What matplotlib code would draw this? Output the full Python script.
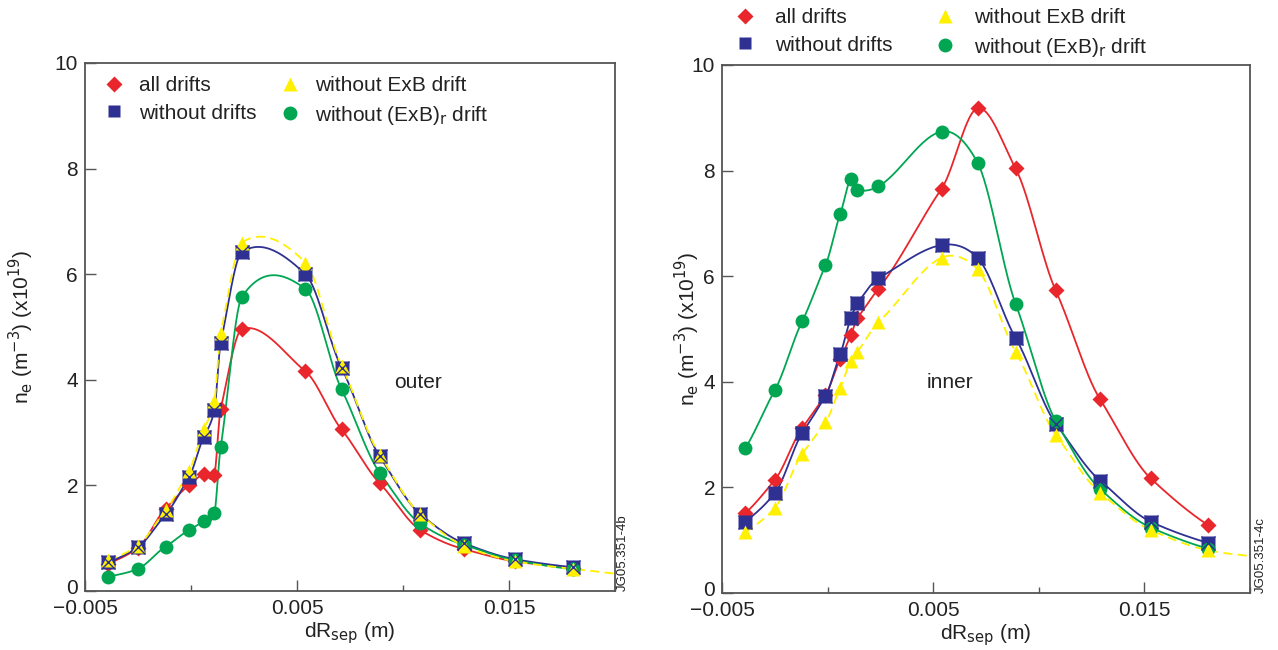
import numpy as np
import matplotlib
matplotlib.use('Agg')
import matplotlib.pyplot as plt
import matplotlib.transforms as mtransforms
from matplotlib.lines import Line2D

plt.rcParams['font.family'] = ['Liberation Sans', 'DejaVu Sans']

# radial positions (m) shared by both profiles
dr_sep = [-0.0039, -0.0025, -0.0012, -0.0001, 0.0006, 0.0011, 0.0014, 0.0024,
          0.0054, 0.0071, 0.0089, 0.0108, 0.0129, 0.0153, 0.0180]

# outer target, n_e in 1e19 m^-3
outer_all = [0.52, 0.82, 1.56, 2.00, 2.22, 2.20, 3.45, 4.96, 4.16, 3.06, 2.04, 1.16, 0.79, 0.56, 0.43]
outer_none = [0.54, 0.83, 1.45, 2.15, 2.92, 3.42, 4.70, 6.42, 6.00, 4.23, 2.55, 1.46, 0.90, 0.60, 0.45]
outer_no_exb = [0.58, 0.86, 1.53, 2.27, 3.06, 3.60, 4.88, 6.60, 6.22, 4.27, 2.58, 1.46, 0.85, 0.56, 0.42]
outer_no_exb_r = [0.27, 0.42, 0.84, 1.15, 1.32, 1.47, 2.73, 5.57, 5.72, 3.82, 2.24, 1.28, 0.87, 0.58, 0.41]

# inner target
inner_all = [1.51, 2.14, 3.13, 3.75, 4.43, 4.88, 5.20, 5.76, 7.66, 9.18, 8.04, 5.73, 3.67, 2.17, 1.29]
inner_none = [1.35, 1.89, 3.03, 3.73, 4.53, 5.20, 5.49, 5.96, 6.59, 6.35, 4.83, 3.21, 2.13, 1.35, 0.95]
inner_no_exb = [1.15, 1.61, 2.64, 3.23, 3.89, 4.40, 4.57, 5.13, 6.35, 6.13, 4.57, 3.00, 1.90, 1.19, 0.81]
inner_no_exb_r = [2.74, 3.84, 5.15, 6.21, 7.18, 7.84, 7.63, 7.70, 8.74, 8.15, 5.48, 3.26, 1.97, 1.24, 0.84]

# the ExB-off fit runs on to the edge of the window
tail_x = 0.0200
outer_no_exb_tail = 0.33
inner_no_exb_tail = 0.70

RED = '#E8262B'
BLUE = '#2E3192'
YELLOW = '#FFF000'
GREEN = '#00A651'
AXCOL = '#555555'
TXT = '#222222'


def smooth(x, y, n=30, tension=0.8):
    # cubic Hermite through the points, damped Catmull-Rom slopes
    x = np.asarray(x, float)
    y = np.asarray(y, float)
    m = np.empty_like(y)
    m[1:-1] = (y[2:] - y[:-2]) / (x[2:] - x[:-2])
    m[0] = (y[1] - y[0]) / (x[1] - x[0])
    m[-1] = (y[-1] - y[-2]) / (x[-1] - x[-2])
    m *= tension
    xs, ys = [], []
    for i in range(len(x) - 1):
        h = x[i + 1] - x[i]
        t = np.linspace(0, 1, n, endpoint=False)
        h00 = 2 * t**3 - 3 * t**2 + 1
        h10 = t**3 - 2 * t**2 + t
        h01 = -2 * t**3 + 3 * t**2
        h11 = t**3 - t**2
        xs.append(x[i] + t * h)
        ys.append(h00 * y[i] + h10 * h * m[i] + h01 * y[i + 1] + h11 * h * m[i + 1])
    xs.append([x[-1]])
    ys.append([y[-1]])
    return np.concatenate(xs), np.concatenate(ys)


def draw_panel(ax, all_d, none_d, no_exb, no_exb_r, tail):
    x = dr_sep
    sx, sy = smooth(x, all_d)
    ax.plot(sx, sy, color=RED, lw=1.3, zorder=2)
    sx, sy = smooth(x, none_d)
    ax.plot(sx, sy, color=BLUE, lw=1.3, zorder=2)
    sx, sy = smooth(x, no_exb_r)
    ax.plot(sx, sy, color=GREEN, lw=1.3, zorder=2)
    sx, sy = smooth(list(x) + [tail_x], list(no_exb) + [tail])
    ax.plot(sx, sy, color=YELLOW, lw=1.3, ls=(0, (5, 3)), zorder=2)

    ax.plot(x, all_d, 'D', color=RED, ms=8.5, mec='none', zorder=3)
    ax.plot(x, none_d, 's', color=BLUE, ms=9.5, mec='none', zorder=4)
    ax.plot(x, no_exb_r, 'o', color=GREEN, ms=10, mec='none', zorder=5)
    ax.plot(x, no_exb, '^', color=YELLOW, ms=9.5, mec='none', zorder=6)
    ax.plot(x, none_d, 'x', color=BLUE, ms=10, mew=1.0, zorder=7)

    ax.set_xlim(-0.005, 0.020)
    ax.set_ylim(0, 10)
    ax.set_xticks([-0.005, 0.005, 0.015])
    ax.set_xticklabels(['\u22120.005', '0.005', '0.015'])
    ax.set_xticks([0.0, 0.010, 0.020], minor=True)
    ax.set_yticks([0, 2, 4, 6, 8, 10])
    ax.tick_params(which='both', direction='in', color=AXCOL, labelsize=15,
                   labelcolor=TXT, width=1.0)
    ax.tick_params(which='major', length=8)
    ax.tick_params(which='minor', length=4)
    ax.tick_params(axis='x', which='major', pad=6)
    ax.tick_params(axis='y', which='major', pad=5)
    for s in ax.spines.values():
        s.set_color(AXCOL)
        s.set_linewidth(1.3)
    ax.set_xlabel(r'dR$_{\rm sep}$ (m)', fontsize=15, color=TXT)
    ax.set_ylabel(r'n$_{\rm e}$ (m$^{-3}$) (x10$^{19}$)', fontsize=15, color=TXT)

    # lift the "0" a touch so it clears the corner x label
    zero = ax.get_yticklabels()[0]
    zero.set_transform(zero.get_transform() +
                       mtransforms.ScaledTranslation(0, 3 / 72, ax.figure.dpi_scale_trans))


fig = plt.figure(figsize=(12.78, 6.5), dpi=100)
ax1 = fig.add_axes([85 / 1278, 59 / 650, 530 / 1278, 528 / 650])
ax2 = fig.add_axes([722 / 1278, 57 / 650, 528 / 1278, 528 / 650])

draw_panel(ax1, outer_all, outer_none, outer_no_exb, outer_no_exb_r, outer_no_exb_tail)
draw_panel(ax2, inner_all, inner_none, inner_no_exb, inner_no_exb_r, inner_no_exb_tail)

ax1.xaxis.set_label_coords(0.5, -0.055)
ax2.xaxis.set_label_coords(0.5, -0.055)
ax1.yaxis.set_label_coords(-0.092, 0.5)
ax2.yaxis.set_label_coords(-0.037, 0.5)

ax1.text(0.0107, 3.94, 'outer', fontsize=15, ha='center', va='center', color=TXT)
ax2.text(0.0058, 3.98, 'inner', fontsize=15, ha='center', va='center', color=TXT)

fig.text(623 / 1278, 59 / 650, 'JG05.351-4b', rotation=90, fontsize=9.5,
         ha='center', va='bottom', color=TXT)
fig.text(1261 / 1278, 57 / 650, 'JG05.351-4c', rotation=90, fontsize=9.5,
         ha='center', va='bottom', color=TXT)

handles = [
    Line2D([], [], ls='none', marker='D', color=RED, ms=8, mec='none'),
    Line2D([], [], ls='none', marker='s', color=BLUE, ms=8, mec='none'),
    Line2D([], [], ls='none', marker='^', color=YELLOW, ms=10, mec='none'),
    Line2D([], [], ls='none', marker='o', color=GREEN, ms=10, mec='none'),
]
labels = ['all drifts', 'without drifts', 'without ExB drift', r'without (ExB)$_{\rm r}$ drift']

leg1 = ax1.legend(handles, labels, ncol=2, frameon=False, fontsize=15,
                  loc='upper left', bbox_to_anchor=(104 / 1278, 1 - 76 / 650),
                  bbox_transform=fig.transFigure, borderpad=0, borderaxespad=0,
                  handlelength=1.0, handletextpad=0.7, columnspacing=1.1,
                  labelspacing=0.42)
leg2 = ax2.legend(handles, labels, ncol=2, frameon=False, fontsize=15,
                  loc='upper left', bbox_to_anchor=(735 / 1278, 1 - 8 / 650),
                  bbox_transform=fig.transFigure, borderpad=0, borderaxespad=0,
                  handlelength=1.0, handletextpad=0.9, columnspacing=2.05,
                  labelspacing=0.42)
for leg in (leg1, leg2):
    for t in leg.get_texts():
        t.set_color(TXT)

fig.savefig('out.png', dpi=100)
